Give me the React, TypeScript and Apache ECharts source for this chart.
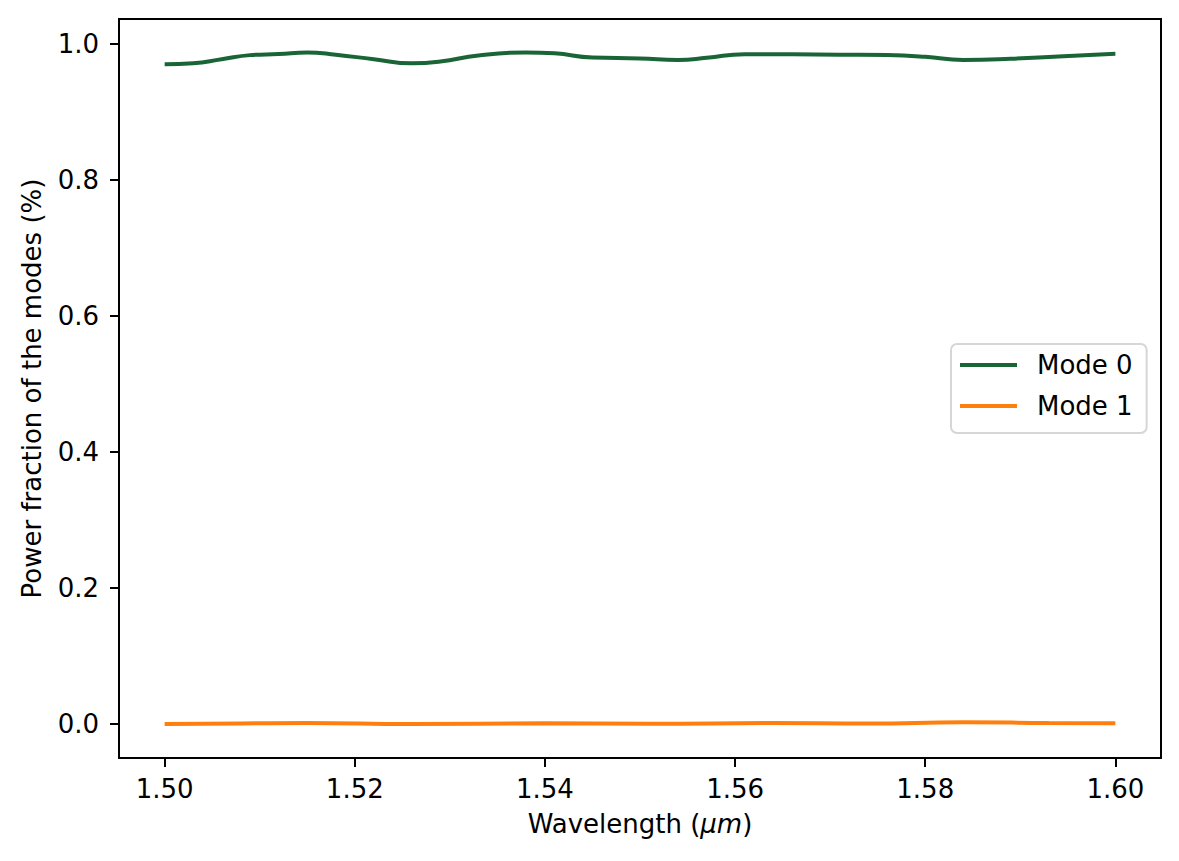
import React, { useEffect, useRef } from "react";
import * as echarts from "echarts";

const mode0Wavelengths = [1.5, 1.503, 1.506, 1.509, 1.512, 1.515, 1.518, 1.522, 1.526, 1.529, 1.533, 1.538, 1.541, 1.545, 1.55, 1.554, 1.557, 1.561, 1.566, 1.571, 1.576, 1.58, 1.584, 1.589, 1.594, 1.6];
const mode0Values = [0.9698, 0.9712, 0.9772, 0.9832, 0.9848, 0.9871, 0.9838, 0.9772, 0.9712, 0.9738, 0.9828, 0.9872, 0.9858, 0.9796, 0.9784, 0.9762, 0.9792, 0.9846, 0.9844, 0.9838, 0.9832, 0.9808, 0.9762, 0.9778, 0.9812, 0.9852];
const mode1Wavelengths = [1.5, 1.508, 1.515, 1.526, 1.54, 1.551, 1.564, 1.574, 1.584, 1.593, 1.6];
const mode1Values = [0.0, 0.0008, 0.0015, 0.0, 0.001, 0.0002, 0.0015, 0.0006, 0.0025, 0.0015, 0.001];
const xTicks = [1.5, 1.52, 1.54, 1.56, 1.58, 1.6];
const yTicks = [0, 0.2, 0.4, 0.6, 0.8, 1.0];
const seriesNames = ["Mode 0", "Mode 1"];
const seriesColors = ["#1a6536", "#ff7f0e"];

const FONT = "DejaVu Sans";

export default function App() {
  const ref = useRef<HTMLDivElement>(null);
  useEffect(() => {
    if (!ref.current) return;
    const chart = echarts.init(ref.current, null, { renderer: "svg" });
    const zip = (xs: number[], ys: number[]) => xs.map((x, i) => [x, ys[i]]);
    chart.setOption({
      animation: false,
      backgroundColor: "#ffffff",
      textStyle: { fontFamily: FONT },
      grid: {
        left: 119,
        right: 18,
        top: 19,
        bottom: 103,
        show: true,
        borderColor: "#000",
        borderWidth: 2,
        backgroundColor: "transparent",
      },
      xAxis: {
        type: "value",
        min: 1.4952,
        max: 1.6048,
        axisLine: { show: false, onZero: false },
        splitLine: { show: false },
        axisTick: {
          show: true,
          length: 9,
          inside: false,
          lineStyle: { color: "#000", width: 2 },
          customValues: xTicks,
        },
        axisLabel: {
          customValues: xTicks,
          formatter: (v: number) => v.toFixed(2),
          fontSize: 26,
          color: "#000",
          fontFamily: FONT,
          margin: 18,
        },
        name: "Wavelength ({i|μm})",
        nameLocation: "middle",
        nameGap: 53,
        nameTextStyle: {
          fontSize: 26,
          color: "#000",
          fontFamily: FONT,
          rich: { i: { fontStyle: "italic", fontSize: 26, fontFamily: FONT, color: "#000" } },
        },
      },
      yAxis: {
        type: "value",
        min: -0.05,
        max: 1.0363,
        axisLine: { show: false, onZero: false },
        splitLine: { show: false },
        axisTick: {
          show: true,
          length: 9,
          inside: false,
          lineStyle: { color: "#000", width: 2 },
          customValues: yTicks,
        },
        axisLabel: {
          customValues: yTicks,
          formatter: (v: number) => v.toFixed(1),
          fontSize: 26,
          color: "#000",
          fontFamily: FONT,
          margin: 20,
        },
        name: "Power fraction of the modes (%)",
        nameLocation: "middle",
        nameRotate: 90,
        nameGap: 74,
        nameTextStyle: { fontSize: 26, color: "#000", fontFamily: FONT },
      },
      legend: {
        orient: "vertical",
        left: 951,
        top: 344,
        padding: [8, 14, 14, 9],
        itemWidth: 57,
        itemHeight: 4,
        itemGap: 15,
        icon: "rect",
        backgroundColor: "#fff",
        borderColor: "#d6d6d6",
        borderWidth: 2,
        borderRadius: 6,
        textStyle: { fontSize: 26, color: "#000", fontFamily: FONT, lineHeight: 26, padding: [0, 0, 0, 15] },
        data: seriesNames,
      },
      series: [
        {
          name: seriesNames[0],
          type: "line",
          data: zip(mode0Wavelengths, mode0Values),
          showSymbol: false,
          smooth: 0.5,
          lineStyle: { color: seriesColors[0], width: 4 },
          itemStyle: { color: seriesColors[0] },
        },
        {
          name: seriesNames[1],
          type: "line",
          data: zip(mode1Wavelengths, mode1Values),
          showSymbol: false,
          smooth: 0.5,
          lineStyle: { color: seriesColors[1], width: 4 },
          itemStyle: { color: seriesColors[1] },
        },
      ],
    });
    return () => chart.dispose();
  }, []);
  return (
    <div
      ref={ref}
      style={{ position: "absolute", left: 0, top: 0, width: 1179, height: 861 }}
    />
  );
}
